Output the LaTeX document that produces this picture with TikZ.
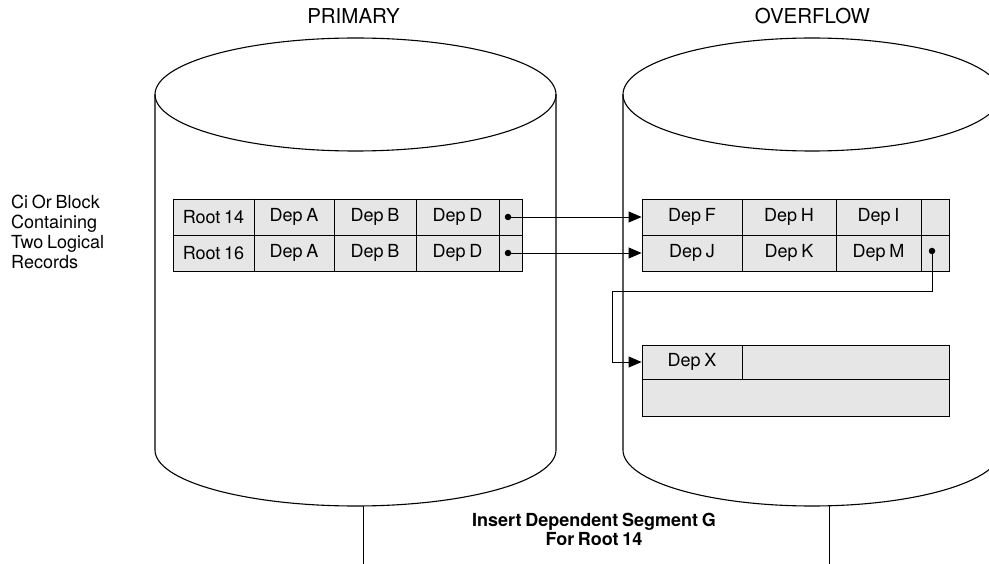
\documentclass[tikz,border=0pt]{standalone}
\usepackage{fontspec}
\setmainfont{TeX Gyre Heros}[WordSpace=0.75]
\usetikzlibrary{arrows.meta}
\definecolor{cellgray}{RGB}{230,230,231}
\begin{document}
\begin{tikzpicture}[x=1pt,y=-1pt,
 every node/.style={font=\fontsize{18}{20}\selectfont},
 cell/.style={draw=black, line width=0.9pt, fill=cellgray, inner sep=0pt, minimum height=36pt},
 cyl/.style={draw=black, line width=1.1pt},
 link/.style={draw=black, line width=0.9pt},
 arr/.style={link, -{Triangle[length=13pt,width=11pt]}},
 dotn/.style={circle, fill=black, inner sep=0pt, minimum size=6.5pt},
 title/.style={font=\fontsize{20.5}{24}\selectfont, anchor=base},
 side/.style={anchor=base west, inner sep=0pt},
 bold/.style={font=\fontsize{18}{20}\selectfont\bfseries, anchor=base, inner sep=0pt},
]
\useasboundingbox (0,0) rectangle (989,564);
\clip (0,0) rectangle (989,564);
\fill[white] (0,0) rectangle (989,564);

% cylinders
\draw[cyl] (355.5,94.5) ellipse [x radius=200.5pt, y radius=56.5pt];
\draw[cyl] (155,94.5) -- (155,450) arc[start angle=180, end angle=360, x radius=200.5pt, y radius=56pt] -- (556,94.5);
\draw[cyl] (812,94.5) ellipse [x radius=189pt, y radius=56.5pt];
\draw[cyl] (623,94.5) -- (623,450) arc[start angle=180, end angle=360, x radius=189pt, y radius=56pt] -- (1001,94.5);

% stems
\coordinate (ps1) at (363,506); \coordinate (ps2) at (363,564);
\coordinate (os1) at (829,506); \coordinate (os2) at (829,564);
\draw[link] (ps1) -- (ps2);
\draw[link] (os1) -- (os2);

% titles
\node[title] (ptitle) at (353.5,24) {PRIMARY};
\node[title] (otitle) at (812.5,24) {OVERFLOW};

% side text
\node[side] (l1) at (11,209) {Ci Or Block};
\node[side] (l2) at (11,229) {Containing};
\node[side] (l3) at (11,249) {Two Logical};
\node[side] (l4) at (11,269) {Records};

% primary table
\node[cell, minimum width=81pt] (r14) at (213.5,217) {Root 14};
\node[cell, minimum width=80pt] (a14) at (294,217) {Dep A};
\node[cell, minimum width=82pt] (b14) at (375,217) {Dep B};
\node[cell, minimum width=83pt] (dd14) at (457.5,217) {Dep D};
\node[cell, minimum width=23pt] (p14) at (510.5,217) {};
\node[cell, minimum width=81pt] (r16) at (213.5,253) {Root 16};
\node[cell, minimum width=80pt] (a16) at (294,253) {Dep A};
\node[cell, minimum width=82pt] (b16) at (375,253) {Dep B};
\node[cell, minimum width=83pt] (dd16) at (457.5,253) {Dep D};
\node[cell, minimum width=23pt] (p16) at (510.5,253) {};
\draw[line width=1.8pt] (r14.north east) -- (r16.south east);

% overflow table
\node[cell, minimum width=100pt] (depF) at (692,217) {Dep F};
\node[cell, minimum width=94pt] (depH) at (789,217) {Dep H};
\node[cell, minimum width=85pt] (depI) at (878.5,217) {Dep I};
\node[cell, minimum width=28pt] (pI) at (935,217) {};
\node[cell, minimum width=100pt] (depJ) at (692,253) {Dep J};
\node[cell, minimum width=94pt] (depK) at (789,253) {Dep K};
\node[cell, minimum width=85pt] (depM) at (878.5,253) {Dep M};
\node[cell, minimum width=28pt] (pM) at (935,253) {};

% dep X block
\node[cell, minimum width=100pt, minimum height=34pt] (depX) at (692,362) {Dep X};
\node[cell, minimum width=207pt, minimum height=34pt] (xr) at (845.5,362) {};
\node[cell, minimum width=307pt, minimum height=37pt] (xb) at (795.5,397.5) {};

% pointers
\node[dotn] (d14) at (508,217) {};
\node[dotn] (d16) at (508,253) {};
\node[dotn] (dm) at (932,251) {};
\draw[arr] (d14.center) -- (depF.west);
\draw[arr] (d16.center) -- (depJ.west);
\coordinate (bend) at (612,291);
\draw[arr] (dm.center) |- (bend) |- (depX.west);

% caption
\node[bold] (cap1) at (594,526) {Insert Dependent Segment G};
\node[bold] (cap2) at (594,545) {For Root 14};
\end{tikzpicture}
\end{document}
